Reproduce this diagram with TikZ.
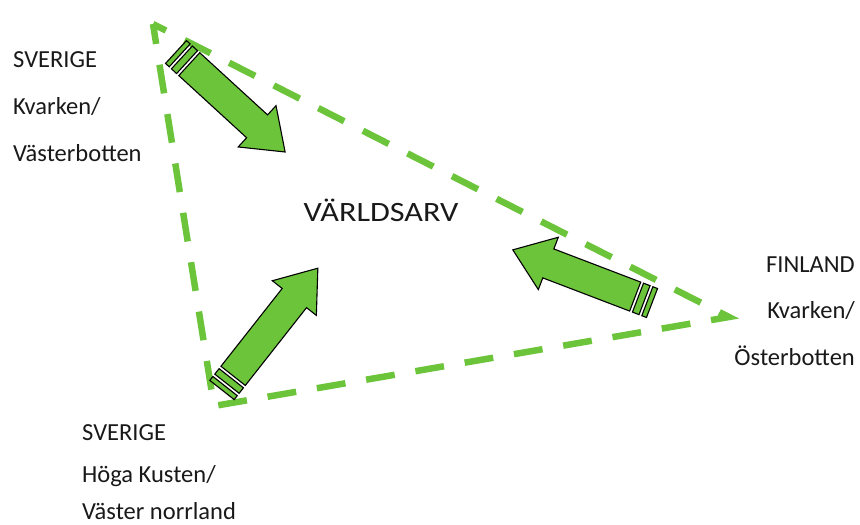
\documentclass[tikz,border=0pt]{standalone}
\usepackage{fontspec}
\usepackage{graphicx}
\setmainfont{Carlito}
\definecolor{grn}{RGB}{108,196,58}
\tikzset{
  lbl/.style={inner sep=0pt, font=\fontsize{24.5}{28}\selectfont, text=black!90},
  big/.style={inner sep=0pt, font=\fontsize{28}{31}\selectfont, text=black!90},
  tri/.style={draw=grn, line width=6.5pt, dash pattern=on 29pt off 21pt, dash phase=14.5pt, line join=miter},
  barrow/.style={fill=grn, draw=black, line width=1.1pt, line join=miter}
}
\newcommand\blockarrow[3]{%
  \begin{scope}[shift={#1},rotate=#2]
    \path[barrow] (0,-15.5) rectangle (5,15.5);
    \path[barrow] (8,-15.5) rectangle (15,15.5);
    \path[barrow] (18,-15.5) -- (#3-38,-15.5) -- (#3-38,-28) -- (#3,0) -- (#3-38,28) -- (#3-38,15.5) -- (18,15.5) -- cycle;
  \end{scope}}
\begin{document}
\begin{tikzpicture}[x=1pt,y=-1pt]
\useasboundingbox (0,0) rectangle (860,525);
% triangle
\coordinate (A) at (153,24);
\coordinate (B) at (729,317);
\coordinate (C) at (214,406);
\draw[tri] (A) -- (B) -- (C) -- cycle;
% arrows
\blockarrow{(176,52)}{-42.5}{148}
\blockarrow{(652,303)}{159.1}{149}
\blockarrow{(222,390)}{51.8}{155}
% labels
\node[big] (W) at (381,210) {\scalebox{1.15}[1]{VÄRLDSARV}};
\node[lbl, anchor=base west] (s1) at (13,67) {SVERIGE};
\node[lbl, anchor=base west] (s2) at (13,114) {Kvarken/};
\node[lbl, anchor=base west] (s3) at (13,161) {Västerbotten};
\node[lbl, anchor=base east] (f1) at (855,272) {FINLAND};
\node[lbl, anchor=base east] (f2) at (855,318) {Kvarken/};
\node[lbl, anchor=base east] (f3) at (855,365) {Österbotten};
\node[lbl, anchor=base west] (b1) at (82,440) {SVERIGE};
\node[lbl, anchor=base west] (b2) at (82,482) {Höga Kusten/};
\node[lbl, anchor=base west] (b3) at (82,519) {Väster norrland};
\end{tikzpicture}
\end{document}
